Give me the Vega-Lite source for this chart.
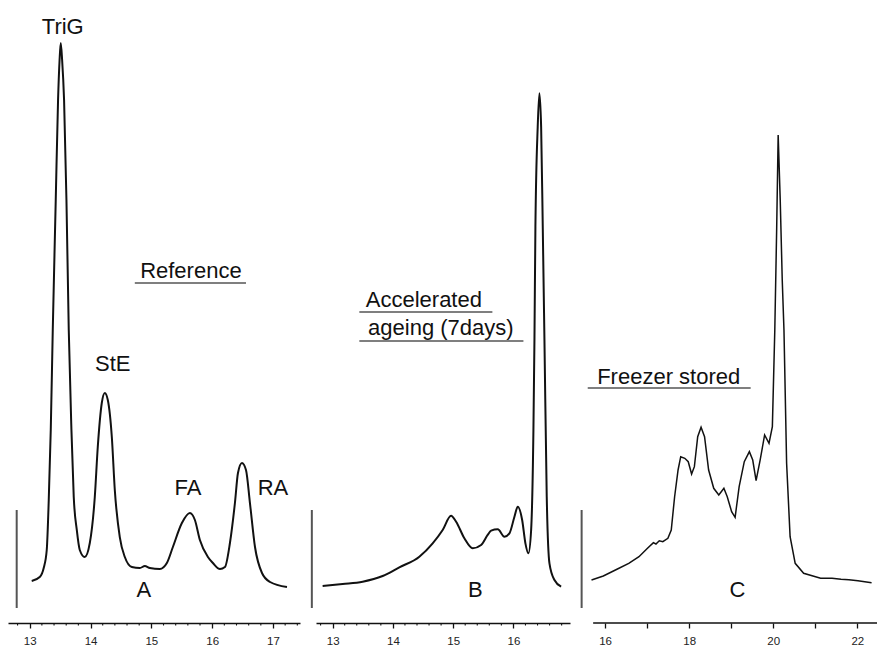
{
  "$schema": "https://vega.github.io/schema/vega-lite/v6.json",
  "padding": {"left": 8, "top": 0, "right": 0, "bottom": 0},
  "autosize": {"type": "pad"},
  "background": "white",
  "bounds": "flush",
  "spacing": 16,
  "config": {
    "view": {"stroke": null},
    "axis": {
      "domainColor": "#111", "domainWidth": 1.6, "tickColor": "#111", "tickWidth": 1.3, "tickSize": 5,
      "labelFont": "Liberation Sans", "labelFontSize": 11.5, "labelColor": "#222", "labelPadding": 7,
      "grid": false, "title": null, "labelFlush": false, "labelOverlap": false
    }
  },
  "datasets": {
    "traceA": [
      {"t": 13.033, "s": 6.74}, {"t": 13.165, "s": 7.38}, {"t": 13.230, "s": 8.83}, {"t": 13.280, "s": 11.72},
      {"t": 13.313, "s": 19.74}, {"t": 13.346, "s": 30.98}, {"t": 13.379, "s": 47.03}, {"t": 13.428, "s": 67.90},
      {"t": 13.466, "s": 83.95}, {"t": 13.491, "s": 90.37}, {"t": 13.510, "s": 93.10}, {"t": 13.533, "s": 90.37},
      {"t": 13.565, "s": 83.95}, {"t": 13.604, "s": 67.90}, {"t": 13.642, "s": 47.03}, {"t": 13.686, "s": 30.98},
      {"t": 13.724, "s": 20.22}, {"t": 13.774, "s": 14.93}, {"t": 13.823, "s": 11.72}, {"t": 13.905, "s": 10.59},
      {"t": 13.988, "s": 12.84}, {"t": 14.070, "s": 20.22}, {"t": 14.119, "s": 28.25}, {"t": 14.185, "s": 35.31},
      {"t": 14.235, "s": 36.92}, {"t": 14.284, "s": 35.79}, {"t": 14.350, "s": 29.86}, {"t": 14.399, "s": 21.35},
      {"t": 14.481, "s": 13.80}, {"t": 14.564, "s": 10.59}, {"t": 14.679, "s": 8.99}, {"t": 14.811, "s": 8.83},
      {"t": 14.893, "s": 9.15}, {"t": 14.975, "s": 8.83}, {"t": 15.140, "s": 8.67}, {"t": 15.255, "s": 9.63},
      {"t": 15.354, "s": 12.20}, {"t": 15.502, "s": 16.05}, {"t": 15.634, "s": 17.66}, {"t": 15.716, "s": 16.53},
      {"t": 15.798, "s": 13.32}, {"t": 15.930, "s": 10.59}, {"t": 16.012, "s": 9.63}, {"t": 16.128, "s": 8.67},
      {"t": 16.210, "s": 8.99}, {"t": 16.292, "s": 12.84}, {"t": 16.374, "s": 19.26}, {"t": 16.424, "s": 24.08},
      {"t": 16.490, "s": 25.68}, {"t": 16.556, "s": 24.56}, {"t": 16.621, "s": 19.26}, {"t": 16.704, "s": 12.20},
      {"t": 16.819, "s": 8.03}, {"t": 16.951, "s": 6.58}, {"t": 17.230, "s": 5.78}
    ],
    "traceB": [
      {"t": 12.834, "s": 5.94}, {"t": 13.166, "s": 6.26}, {"t": 13.498, "s": 6.63}, {"t": 13.830, "s": 7.54},
      {"t": 14.107, "s": 8.94}, {"t": 14.439, "s": 10.64}, {"t": 14.660, "s": 12.79}, {"t": 14.826, "s": 14.93},
      {"t": 14.965, "s": 17.22}, {"t": 15.049, "s": 16.26}, {"t": 15.186, "s": 13.60}, {"t": 15.324, "s": 11.99},
      {"t": 15.464, "s": 12.52}, {"t": 15.573, "s": 14.13}, {"t": 15.630, "s": 14.82}, {"t": 15.740, "s": 15.04},
      {"t": 15.851, "s": 13.85}, {"t": 15.934, "s": 14.40}, {"t": 16.017, "s": 17.06}, {"t": 16.072, "s": 18.67},
      {"t": 16.145, "s": 16.53}, {"t": 16.199, "s": 12.79}, {"t": 16.249, "s": 11.19}, {"t": 16.294, "s": 14.93},
      {"t": 16.332, "s": 30.98}, {"t": 16.349, "s": 45.43}, {"t": 16.365, "s": 63.56}, {"t": 16.403, "s": 79.61},
      {"t": 16.431, "s": 85.02}, {"t": 16.460, "s": 79.61}, {"t": 16.487, "s": 63.56}, {"t": 16.515, "s": 45.43},
      {"t": 16.553, "s": 20.27}, {"t": 16.598, "s": 9.58}, {"t": 16.681, "s": 6.90}, {"t": 16.792, "s": 5.83}
    ],
    "traceC": [
      {"t": 15.678, "s": 6.90}, {"t": 15.959, "s": 7.54}, {"t": 16.283, "s": 8.62}, {"t": 16.564, "s": 9.58},
      {"t": 16.807, "s": 10.64}, {"t": 17.010, "s": 11.99}, {"t": 17.150, "s": 12.90}, {"t": 17.211, "s": 12.68},
      {"t": 17.290, "s": 13.20}, {"t": 17.374, "s": 13.05}, {"t": 17.495, "s": 13.60}, {"t": 17.575, "s": 14.93},
      {"t": 17.655, "s": 20.27}, {"t": 17.737, "s": 24.56},
      {"t": 17.800, "s": 26.69}, {"t": 17.897, "s": 26.44}, {"t": 17.979, "s": 25.89}, {"t": 18.059, "s": 23.92},
      {"t": 18.125, "s": 25.09}, {"t": 18.204, "s": 29.90}, {"t": 18.284, "s": 31.41}, {"t": 18.367, "s": 29.90},
      {"t": 18.464, "s": 24.56}, {"t": 18.585, "s": 21.62}, {"t": 18.706, "s": 20.55}, {"t": 18.827, "s": 21.62},
      {"t": 18.907, "s": 20.27}, {"t": 19.011, "s": 17.87}, {"t": 19.094, "s": 16.97}, {"t": 19.190, "s": 21.88},
      {"t": 19.312, "s": 25.89}, {"t": 19.433, "s": 27.50}, {"t": 19.513, "s": 26.16}, {"t": 19.593, "s": 22.84},
      {"t": 19.689, "s": 26.16}, {"t": 19.796, "s": 30.18}, {"t": 19.900, "s": 28.84}, {"t": 19.980, "s": 31.51},
      {"t": 20.038, "s": 47.03}, {"t": 20.082, "s": 63.08}, {"t": 20.118, "s": 78.33}, {"t": 20.167, "s": 67.90},
      {"t": 20.215, "s": 55.06}, {"t": 20.256, "s": 47.03}, {"t": 20.319, "s": 25.63}, {"t": 20.402, "s": 13.85},
      {"t": 20.523, "s": 9.58}, {"t": 20.724, "s": 7.98}, {"t": 21.128, "s": 7.17}, {"t": 21.400, "s": 7.20},
      {"t": 21.613, "s": 7.01}, {"t": 21.800, "s": 6.95}, {"t": 22.015, "s": 6.79}, {"t": 22.340, "s": 6.47}
    ],
    "notes": [
      {"panel": "A", "x": 13.543, "y": 95.67, "label": "TriG"},
      {"panel": "A", "x": 14.366, "y": 41.57, "label": "StE"},
      {"panel": "A", "x": 15.601, "y": 21.67, "label": "FA"},
      {"panel": "A", "x": 17.0, "y": 21.67, "label": "RA"},
      {"panel": "A", "x": 14.877, "y": 5.30, "label": "A"},
      {"panel": "A", "x": 15.650, "y": 56.50, "label": "Reference"},
      {"panel": "B", "x": 14.514, "y": 51.85, "label": "Accelerated"},
      {"panel": "B", "x": 14.796, "y": 47.35, "label": "ageing (7days)"},
      {"panel": "B", "x": 15.369, "y": 5.30, "label": "B"},
      {"panel": "C", "x": 17.514, "y": 39.49, "label": "Freezer stored"},
      {"panel": "C", "x": 19.149, "y": 5.30, "label": "C"}
    ],
    "underlines": [
      {"panel": "A", "x": 14.728, "x2": 16.556, "y": 54.57},
      {"panel": "B", "x": 13.443, "x2": 15.651, "y": 49.92},
      {"panel": "B", "x": 13.443, "x2": 16.166, "y": 45.26},
      {"panel": "C", "x": 15.588, "x2": 19.464, "y": 37.72}
    ],
    "bars": [
      {"panel": "A", "x": 12.786, "y": 18.14, "y2": 2.41},
      {"panel": "B", "x": 12.655, "y": 18.14, "y2": 2.41},
      {"panel": "C", "x": 15.443, "y": 18.14, "y2": 2.41}
    ],
    "axislines": [
      {"panel": "C", "x": 15.717, "x2": 22.469, "y": 0}
    ],
    "minor": [
      {"panel": "A", "x": 12.8}, {"panel": "A", "x": 13.2}, {"panel": "A", "x": 13.4}, {"panel": "A", "x": 13.6}, {"panel": "A", "x": 13.8},
      {"panel": "A", "x": 14.2}, {"panel": "A", "x": 14.4}, {"panel": "A", "x": 14.6}, {"panel": "A", "x": 14.8},
      {"panel": "A", "x": 15.2}, {"panel": "A", "x": 15.4}, {"panel": "A", "x": 15.6}, {"panel": "A", "x": 15.8},
      {"panel": "A", "x": 16.2}, {"panel": "A", "x": 16.4}, {"panel": "A", "x": 16.6}, {"panel": "A", "x": 16.8},
      {"panel": "A", "x": 17.2}, {"panel": "A", "x": 17.4},
      {"panel": "B", "x": 12.8}, {"panel": "B", "x": 13.2}, {"panel": "B", "x": 13.4}, {"panel": "B", "x": 13.6}, {"panel": "B", "x": 13.8},
      {"panel": "B", "x": 14.2}, {"panel": "B", "x": 14.4}, {"panel": "B", "x": 14.6}, {"panel": "B", "x": 14.8},
      {"panel": "B", "x": 15.2}, {"panel": "B", "x": 15.4}, {"panel": "B", "x": 15.6}, {"panel": "B", "x": 15.8},
      {"panel": "B", "x": 16.2}, {"panel": "B", "x": 16.4}, {"panel": "B", "x": 16.6}, {"panel": "B", "x": 16.8}
    ]
  },
  "hconcat": [
    {
      "width": 292, "height": 623,
      "layer": [
        {
          "data": {"name": "traceA"},
          "mark": {"type": "line", "interpolate": "monotone", "color": "#111", "strokeWidth": 2},
          "encoding": {
            "x": {"field": "t", "type": "quantitative", "scale": {"domain": [12.643, 17.444], "nice": false, "zero": false},
              "axis": {"values": [13, 14, 15, 16, 17], "format": "d", "labelOverlap": false, "labelFlush": false}},
            "y": {"field": "s", "type": "quantitative", "scale": {"domain": [0, 100], "nice": false, "zero": false}, "axis": null}
          }
        },
        {
          "data": {"name": "minor"}, "transform": [{"filter": "datum.panel === 'A'"}],
          "mark": {"type": "rule", "color": "#111", "strokeWidth": 1.1},
          "encoding": {"x": {"field": "x", "type": "quantitative"}, "y": {"datum": 0}, "y2": {"datum": -0.4}}
        },
        {
          "data": {"name": "bars"}, "transform": [{"filter": "datum.panel === 'A'"}],
          "mark": {"type": "rule", "color": "#555", "strokeWidth": 2},
          "encoding": {"x": {"field": "x", "type": "quantitative"}, "y": {"field": "y", "type": "quantitative"}, "y2": {"field": "y2"}}
        },
        {
          "data": {"name": "underlines"}, "transform": [{"filter": "datum.panel === 'A'"}],
          "mark": {"type": "rule", "color": "#555", "strokeWidth": 1.5},
          "encoding": {"x": {"field": "x", "type": "quantitative"}, "x2": {"field": "x2"}, "y": {"field": "y", "type": "quantitative"}}
        },
        {
          "data": {"name": "notes"}, "transform": [{"filter": "datum.panel === 'A'"}],
          "mark": {"type": "text", "font": "Liberation Sans", "fontSize": 22, "color": "#111", "align": "center", "baseline": "middle"},
          "encoding": {"x": {"field": "x", "type": "quantitative"}, "y": {"field": "y", "type": "quantitative"}, "text": {"field": "label"}}
        }
      ]
    },
    {
      "width": 254, "height": 623,
      "layer": [
        {
          "data": {"name": "traceB"},
          "mark": {"type": "line", "interpolate": "monotone", "color": "#111", "strokeWidth": 2},
          "encoding": {
            "x": {"field": "t", "type": "quantitative", "scale": {"domain": [12.724, 16.939], "nice": false, "zero": false},
              "axis": {"values": [13, 14, 15, 16], "format": "d", "labelOverlap": false, "labelFlush": false}},
            "y": {"field": "s", "type": "quantitative", "scale": {"domain": [0, 100], "nice": false, "zero": false}, "axis": null}
          }
        },
        {
          "data": {"name": "minor"}, "transform": [{"filter": "datum.panel === 'B'"}],
          "mark": {"type": "rule", "color": "#111", "strokeWidth": 1.1},
          "encoding": {"x": {"field": "x", "type": "quantitative"}, "y": {"datum": 0}, "y2": {"datum": -0.4}}
        },
        {
          "data": {"name": "bars"}, "transform": [{"filter": "datum.panel === 'B'"}],
          "mark": {"type": "rule", "color": "#555", "strokeWidth": 2},
          "encoding": {"x": {"field": "x", "type": "quantitative"}, "y": {"field": "y", "type": "quantitative"}, "y2": {"field": "y2"}}
        },
        {
          "data": {"name": "underlines"}, "transform": [{"filter": "datum.panel === 'B'"}],
          "mark": {"type": "rule", "color": "#555", "strokeWidth": 1.5},
          "encoding": {"x": {"field": "x", "type": "quantitative"}, "x2": {"field": "x2"}, "y": {"field": "y", "type": "quantitative"}}
        },
        {
          "data": {"name": "notes"}, "transform": [{"filter": "datum.panel === 'B'"}],
          "mark": {"type": "text", "font": "Liberation Sans", "fontSize": 22, "color": "#111", "align": "center", "baseline": "middle"},
          "encoding": {"x": {"field": "x", "type": "quantitative"}, "y": {"field": "y", "type": "quantitative"}, "text": {"field": "label"}}
        }
      ]
    },
    {
      "width": 291, "height": 623,
      "layer": [
        {
          "data": {"name": "traceC"},
          "mark": {"type": "line", "color": "#111", "strokeWidth": 1.5},
          "encoding": {
            "x": {"field": "t", "type": "quantitative", "scale": {"domain": [15.547, 22.469], "nice": false, "zero": false},
              "axis": {
                "domain": false,
                "values": [16, 17, 18, 19, 20, 21, 22],
                "labelExpr": "datum.value % 2 === 0 ? format(datum.value, 'd') : ''",
                "labelOverlap": false, "labelFlush": false
              }},
            "y": {"field": "s", "type": "quantitative", "scale": {"domain": [0, 100], "nice": false, "zero": false}, "axis": null}
          }
        },
        {
          "data": {"name": "axislines"}, "transform": [{"filter": "datum.panel === 'C'"}],
          "mark": {"type": "rule", "color": "#111", "strokeWidth": 1.6},
          "encoding": {"x": {"field": "x", "type": "quantitative"}, "x2": {"field": "x2"}, "y": {"field": "y", "type": "quantitative"}}
        },
        {
          "data": {"name": "bars"}, "transform": [{"filter": "datum.panel === 'C'"}],
          "mark": {"type": "rule", "color": "#555", "strokeWidth": 2},
          "encoding": {"x": {"field": "x", "type": "quantitative"}, "y": {"field": "y", "type": "quantitative"}, "y2": {"field": "y2"}}
        },
        {
          "data": {"name": "underlines"}, "transform": [{"filter": "datum.panel === 'C'"}],
          "mark": {"type": "rule", "color": "#555", "strokeWidth": 1.5},
          "encoding": {"x": {"field": "x", "type": "quantitative"}, "x2": {"field": "x2"}, "y": {"field": "y", "type": "quantitative"}}
        },
        {
          "data": {"name": "notes"}, "transform": [{"filter": "datum.panel === 'C'"}],
          "mark": {"type": "text", "font": "Liberation Sans", "fontSize": 22, "color": "#111", "align": "center", "baseline": "middle"},
          "encoding": {"x": {"field": "x", "type": "quantitative"}, "y": {"field": "y", "type": "quantitative"}, "text": {"field": "label"}}
        }
      ]
    }
  ]
}
